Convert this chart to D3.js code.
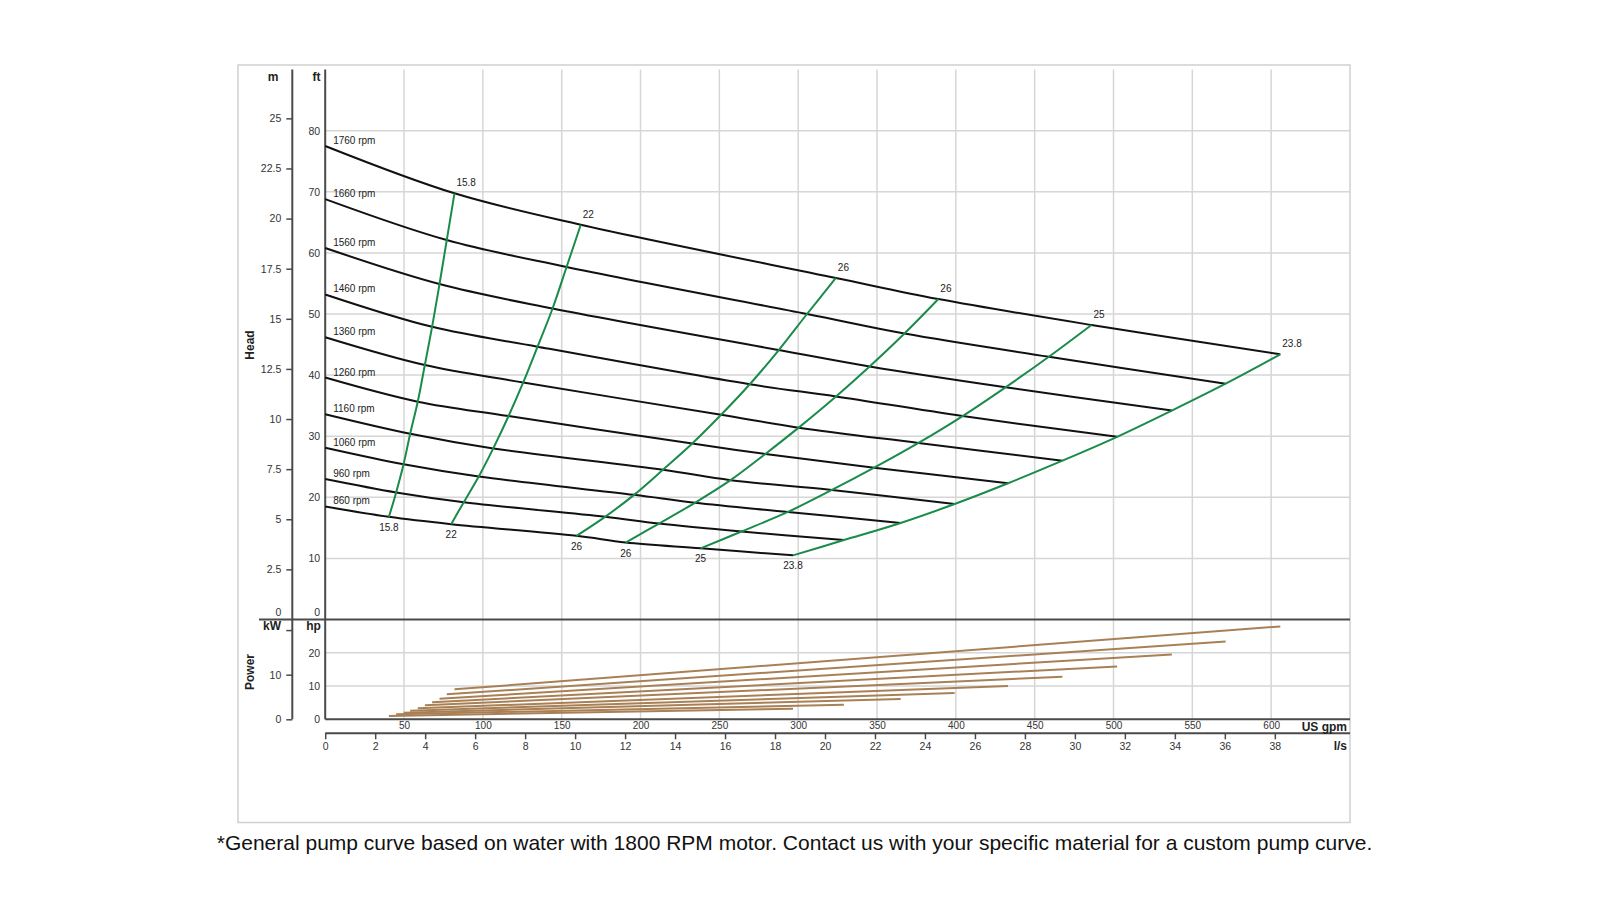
<!DOCTYPE html>
<html>
<head>
<meta charset="utf-8">
<script src="https://cdn.jsdelivr.net/npm/d3@7"></script>
<style>
  body { margin: 0; background: #fff; }
  svg { display: block; font-family: "Liberation Sans", Arial, sans-serif; }
</style>
</head>
<body>
<div id="chart"></div>
<script>
// pump speeds, one head curve and one power line for each
const speeds = [860, 960, 1060, 1160, 1260, 1360, 1460, 1560, 1660, 1760];
// head at zero flow (ft)
const shutoffHead = [18.5, 23.0, 28.1, 33.6, 39.6, 46.2, 53.2, 60.8, 68.8, 77.5];

// efficiency lines, values listed per speed (860 -> 1760)
const effLabels = ["15.8", "22", "26", "26", "25", "23.8"];
const effFlow = [
  [40.4, 45.0, 49.7, 53.9, 58.7, 63.2, 67.8, 72.5, 77.1, 82.0],
  [79.9, 87.9, 97.4, 106.6, 116.3, 125.6, 134.7, 144.2, 153.1, 162.1],
  [159.4, 177.5, 195.9, 214.2, 232.8, 251.1, 269.3, 287.7, 305.6, 323.9],
  [190.6, 211.7, 234.5, 257.1, 279.2, 300.3, 324.0, 345.3, 367.4, 388.9],
  [238.1, 264.0, 293.5, 321.4, 348.2, 376.3, 404.3, 431.5, 459.0, 486.0],
  [296.7, 329.0, 365.0, 399.2, 433.1, 467.6, 502.3, 537.0, 571.1, 605.8]
];
const effHead = [
  [16.8, 20.8, 25.4, 30.4, 35.65, 41.65, 47.9, 54.9, 62.1, 69.75],
  [15.6, 19.2, 23.4, 28.0, 33.3, 38.8, 44.65, 50.9, 57.7, 64.6],
  [13.7, 16.8, 20.4, 24.5, 28.8, 33.5, 38.5, 44.1, 50.0, 55.9],
  [12.6, 15.7, 19.1, 22.8, 27.1, 31.4, 36.5, 41.4, 46.8, 52.45],
  [11.65, 14.4, 17.6, 21.2, 24.85, 28.9, 33.3, 38.0, 43.0, 48.2],
  [10.5, 13.0, 15.8, 18.9, 22.3, 26.0, 29.9, 34.2, 38.6, 43.4]
];

// power (hp) at first and last efficiency point of each speed
const powerStart = [1.0, 1.5, 2.0, 2.6, 3.3, 4.2, 5.1, 6.2, 7.5, 9.0];
const powerEnd = [3.2, 4.4, 6.1, 7.9, 10.0, 12.8, 15.9, 19.5, 23.4, 27.9];

// tick values
const mTicks = [0, 2.5, 5, 7.5, 10, 12.5, 15, 17.5, 20, 22.5, 25];
const ftTicks = [0, 10, 20, 30, 40, 50, 60, 70, 80];
const hpTicks = [0, 10, 20];
const kwTicks = [0, 10, 20];
const gpmTicks = [50, 100, 150, 200, 250, 300, 350, 400, 450, 500, 550, 600];
const lsTicks = [0, 2, 4, 6, 8, 10, 12, 14, 16, 18, 20, 22, 24, 26, 28, 30, 32, 34, 36, 38];

const width = 1600, height = 900;
const plotLeft = 325.2, plotRight = 1350, plotTop = 69.6;
const headZero = 619.5, powerZero = 719.3;
const leftAxisX = 292.3, lsAxisY = 733.3;

const svg = d3.select("#chart").append("svg")
  .attr("width", width)
  .attr("height", height);

// scales
const x = d3.scaleLinear().domain([0, 650]).range([plotLeft, plotRight]);
const xLs = d3.scaleLinear().domain([0, 650 / 15.8503]).range([plotLeft, plotRight]);
const yFt = d3.scaleLinear().domain([0, 90]).range([headZero, plotTop]);
const yM = d3.scaleLinear().domain([0, 90 * 0.3048]).range([headZero, plotTop]);
const yHp = d3.scaleLinear().domain([0, 30]).range([powerZero, headZero]);
const yKw = d3.scaleLinear().domain([0, 30 * 0.7457]).range([powerZero, headZero]);

// outer frame
svg.append("rect")
  .attr("x", 238).attr("y", 65)
  .attr("width", 1112).attr("height", 757.5)
  .attr("fill", "none")
  .attr("stroke", "#d0d0d0")
  .attr("stroke-width", 1.5);

// grid
const grid = svg.append("g").attr("stroke", "#d6d6d6").attr("stroke-width", 1.5);
grid.selectAll("line.v").data(gpmTicks).enter().append("line")
  .attr("x1", d => x(d)).attr("x2", d => x(d))
  .attr("y1", plotTop).attr("y2", powerZero);
grid.selectAll("line.h").data(ftTicks.filter(d => d > 0)).enter().append("line")
  .attr("x1", plotLeft).attr("x2", plotRight)
  .attr("y1", d => yFt(d)).attr("y2", d => yFt(d));
grid.selectAll("line.p").data(hpTicks.filter(d => d > 0)).enter().append("line")
  .attr("x1", plotLeft).attr("x2", plotRight)
  .attr("y1", d => yHp(d)).attr("y2", d => yHp(d));

// axis lines
const axisColor = "#4a4a4a";
[leftAxisX, plotLeft].forEach(ax => {
  svg.append("line")
    .attr("x1", ax).attr("x2", ax).attr("y1", plotTop).attr("y2", powerZero)
    .attr("stroke", axisColor).attr("stroke-width", 2);
});
svg.append("line")
  .attr("x1", 259).attr("x2", plotRight).attr("y1", headZero).attr("y2", headZero)
  .attr("stroke", axisColor).attr("stroke-width", 2);
svg.append("line")
  .attr("x1", plotLeft).attr("x2", plotRight).attr("y1", powerZero).attr("y2", powerZero)
  .attr("stroke", axisColor).attr("stroke-width", 2);
svg.append("line")
  .attr("x1", plotLeft).attr("x2", plotRight).attr("y1", lsAxisY).attr("y2", lsAxisY)
  .attr("stroke", axisColor).attr("stroke-width", 2);

function styleAxis(g, size) {
  g.select(".domain").remove();
  g.selectAll(".tick line").attr("stroke", axisColor).attr("stroke-width", 1.5);
  g.selectAll(".tick text")
    .attr("fill", "#333")
    .style("font-size", size + "px")
    .style("font-family", "'Liberation Sans', Arial, sans-serif");
}

// m axis
const mAxis = svg.append("g")
  .attr("transform", `translate(${leftAxisX},0)`)
  .call(d3.axisLeft(yM).tickValues(mTicks).tickSize(6).tickPadding(5).tickFormat(d => d));
styleAxis(mAxis, 10.5);
mAxis.selectAll(".tick").filter(d => d === 0).select("line").remove();
mAxis.selectAll(".tick").filter(d => d === 0).select("text").attr("y", -7);

// ft axis
const ftAxis = svg.append("g")
  .attr("transform", `translate(${plotLeft},0)`)
  .call(d3.axisLeft(yFt).tickValues(ftTicks).tickSize(0).tickPadding(5));
styleAxis(ftAxis, 10.5);
ftAxis.selectAll(".tick").filter(d => d === 0).select("text").attr("y", -7);

// kW axis
const kwAxis = svg.append("g")
  .attr("transform", `translate(${leftAxisX},0)`)
  .call(d3.axisLeft(yKw).tickValues(kwTicks).tickSize(6).tickPadding(5)
    .tickFormat(d => d === 20 ? "" : d));
styleAxis(kwAxis, 10.5);

// hp axis
const hpAxis = svg.append("g")
  .attr("transform", `translate(${plotLeft},0)`)
  .call(d3.axisLeft(yHp).tickValues(hpTicks).tickSize(0).tickPadding(5));
styleAxis(hpAxis, 10.5);

// US gpm axis
const gpmAxis = svg.append("g")
  .attr("transform", `translate(0,${powerZero})`)
  .call(d3.axisBottom(x).tickValues(gpmTicks).tickSize(0).tickPadding(3));
styleAxis(gpmAxis, 10);

// l/s axis
const lsAxis = svg.append("g")
  .attr("transform", `translate(0,${lsAxisY})`)
  .call(d3.axisBottom(xLs).tickValues(lsTicks).tickSize(6).tickPadding(3));
styleAxis(lsAxis, 10.5);

// axis titles
const titles = [
  { t: "m", x: 273, y: 81, a: "middle" },
  { t: "ft", x: 316.5, y: 81, a: "middle" },
  { t: "kW", x: 272, y: 629.5, a: "middle" },
  { t: "hp", x: 313.5, y: 629.5, a: "middle" },
  { t: "US gpm", x: 1347, y: 730.5, a: "end" },
  { t: "l/s", x: 1347, y: 750, a: "end" }
];
svg.selectAll("text.title").data(titles).enter().append("text")
  .attr("class", "title")
  .attr("x", d => d.x).attr("y", d => d.y)
  .attr("text-anchor", d => d.a)
  .attr("font-size", "12px").attr("font-weight", "bold").attr("fill", "#222")
  .text(d => d.t);

svg.append("text")
  .attr("transform", "translate(254,345) rotate(-90)")
  .attr("text-anchor", "middle")
  .attr("font-size", "12px").attr("font-weight", "bold").attr("fill", "#222")
  .text("Head");
svg.append("text")
  .attr("transform", "translate(254,672) rotate(-90)")
  .attr("text-anchor", "middle")
  .attr("font-size", "12px").attr("font-weight", "bold").attr("fill", "#222")
  .text("Power");

// head curves
const line = d3.line()
  .x(d => x(d[0]))
  .y(d => yFt(d[1]))
  .curve(d3.curveCatmullRom.alpha(0.5));

const headCurves = speeds.map((s, i) =>
  [[0, shutoffHead[i]]].concat(effFlow.map((f, j) => [f[i], effHead[j][i]])));

svg.append("g").selectAll("path")
  .data(headCurves).enter().append("path")
  .attr("d", line)
  .attr("fill", "none")
  .attr("stroke", "#111")
  .attr("stroke-width", 2);

// efficiency lines
const effCurves = effFlow.map((f, j) => speeds.map((s, i) => [f[i], effHead[j][i]]));
svg.append("g").selectAll("path")
  .data(effCurves).enter().append("path")
  .attr("d", line)
  .attr("fill", "none")
  .attr("stroke", "#1a8b4a")
  .attr("stroke-width", 2);

// rpm labels
svg.append("g").selectAll("text")
  .data(speeds).enter().append("text")
  .attr("x", x(0) + 8)
  .attr("y", (d, i) => yFt(shutoffHead[i]) - 2)
  .attr("font-size", "10px").attr("fill", "#222")
  .text(d => d + " rpm");

// efficiency labels, top and bottom
const last = speeds.length - 1;
svg.append("g").selectAll("text")
  .data(effLabels).enter().append("text")
  .attr("x", (d, j) => x(effFlow[j][last]) + 2)
  .attr("y", (d, j) => yFt(effHead[j][last]) - 7)
  .attr("font-size", "10px").attr("fill", "#222")
  .text(d => d);
svg.append("g").selectAll("text")
  .data(effLabels).enter().append("text")
  .attr("x", (d, j) => x(effFlow[j][0]))
  .attr("y", (d, j) => yFt(effHead[j][0]) + 14)
  .attr("text-anchor", "middle")
  .attr("font-size", "10px").attr("fill", "#222")
  .text(d => d);

// power lines
const powerLine = d3.line()
  .x(d => x(d[0]))
  .y(d => yHp(d[1]));
const powerData = speeds.map((s, i) =>
  [[effFlow[0][i], powerStart[i]], [effFlow[5][i], powerEnd[i]]]);
svg.append("g").selectAll("path")
  .data(powerData).enter().append("path")
  .attr("d", powerLine)
  .attr("fill", "none")
  .attr("stroke", "#a98055")
  .attr("stroke-width", 2);

// footnote
svg.append("text")
  .attr("x", 794.5).attr("y", 850)
  .attr("text-anchor", "middle")
  .attr("font-size", "21px").attr("fill", "#111")
  .text("*General pump curve based on water with 1800 RPM motor. Contact us with your specific material for a custom pump curve.");
</script>
</body>
</html>
